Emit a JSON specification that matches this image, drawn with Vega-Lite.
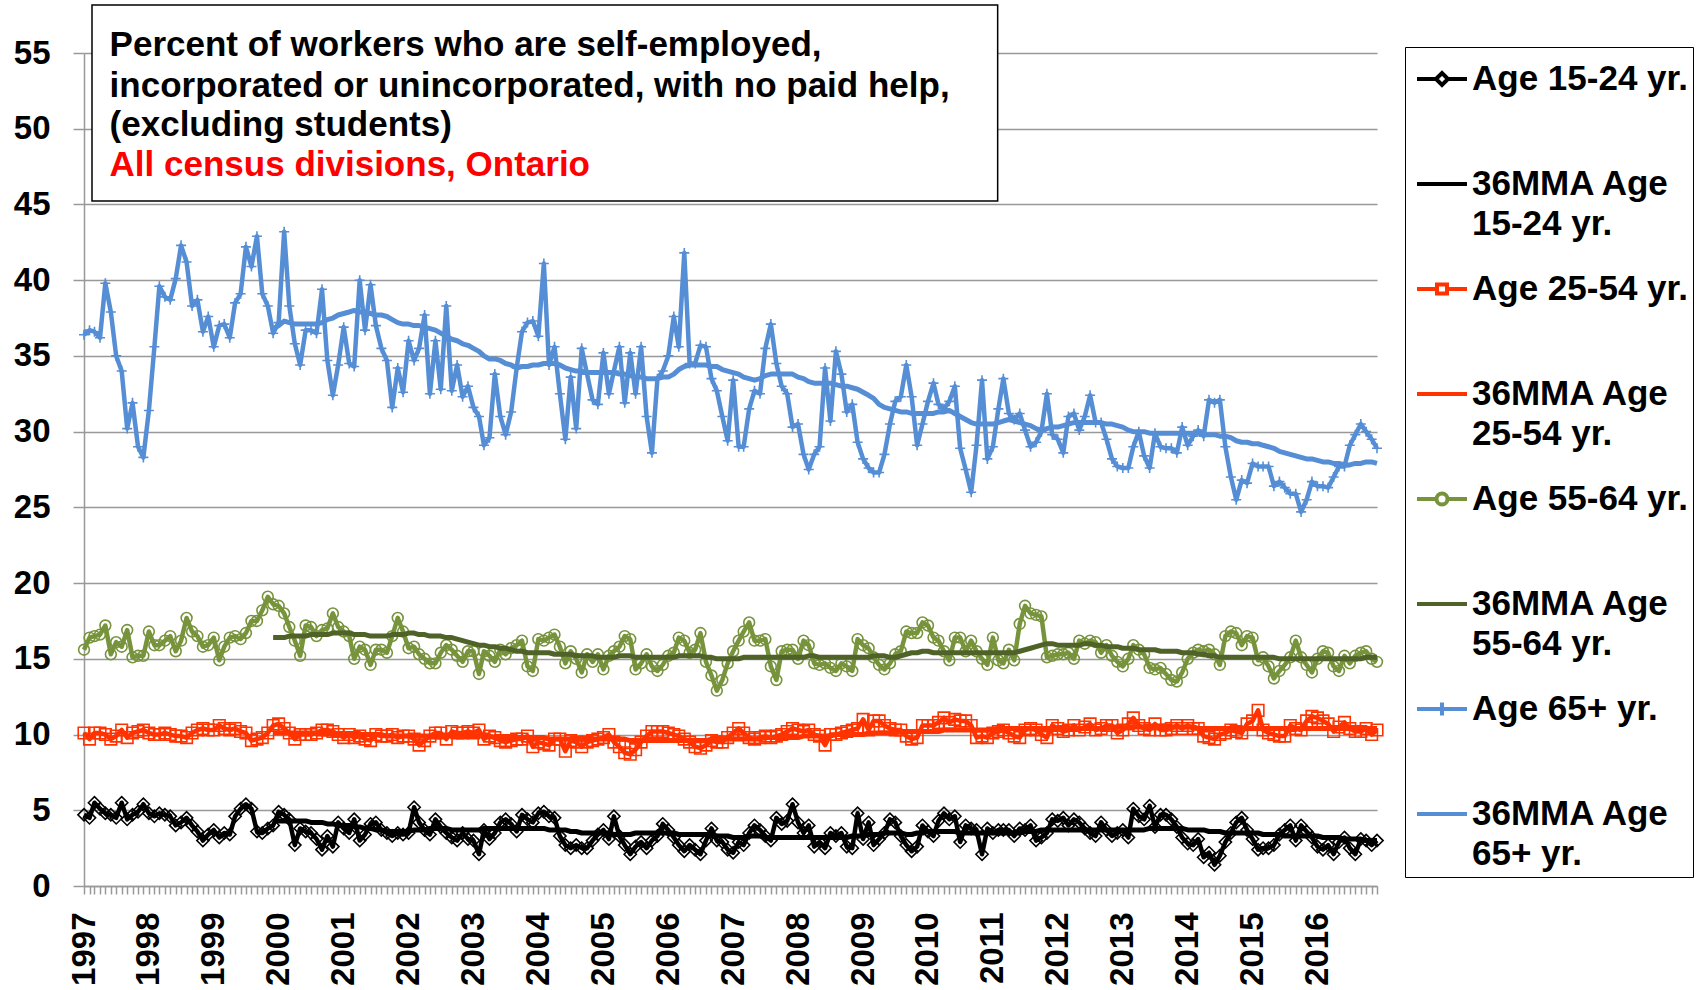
{
"$schema":"https://vega.github.io/schema/vega-lite/v6.json",
"width":1293,"height":833,
"autosize":{"type":"none"},
"padding":{"left":84,"top":53,"right":329,"bottom":104},
"background":"white",
"config":{"view":{"stroke":null},"font":"Liberation Sans"},
"datasets":{"m":[
{"d":"1997-01","a":4.7,"b":10.1,"c":15.6,"e":36.4},
{"d":"1997-02","a":4.5,"b":9.7,"c":16.4,"e":36.7},
{"d":"1997-03","a":5.5,"b":10.1,"c":16.5,"e":36.6},
{"d":"1997-04","a":5.1,"b":10.1,"c":16.6,"e":36.2},
{"d":"1997-05","a":4.8,"b":10.0,"c":17.2,"e":39.8},
{"d":"1997-06","a":4.7,"b":9.7,"c":15.3,"e":37.9},
{"d":"1997-07","a":4.5,"b":9.9,"c":16.1,"e":35.0},
{"d":"1997-08","a":5.5,"b":10.3,"c":15.8,"e":34.0},
{"d":"1997-09","a":4.4,"b":9.8,"c":16.9,"e":30.2},
{"d":"1997-10","a":4.7,"b":10.1,"c":15.1,"e":31.9},
{"d":"1997-11","a":4.9,"b":10.2,"c":15.2,"e":29.0},
{"d":"1997-12","a":5.4,"b":10.3,"c":15.2,"e":28.3},
{"d":"1998-01","a":4.8,"b":10.1,"c":16.8,"e":31.4},
{"d":"1998-02","a":4.6,"b":10.0,"c":15.9,"e":35.6},
{"d":"1998-03","a":4.8,"b":10.0,"c":15.9,"e":39.6},
{"d":"1998-04","a":4.7,"b":10.1,"c":16.2,"e":38.9},
{"d":"1998-05","a":4.6,"b":10.0,"c":16.5,"e":38.7},
{"d":"1998-06","a":4.0,"b":9.9,"c":15.5,"e":40.1},
{"d":"1998-07","a":4.2,"b":9.9,"c":16.2,"e":42.3},
{"d":"1998-08","a":4.5,"b":9.8,"c":17.7,"e":41.2},
{"d":"1998-09","a":4.0,"b":10.1,"c":16.8,"e":38.3},
{"d":"1998-10","a":3.6,"b":10.3,"c":16.5,"e":38.7},
{"d":"1998-11","a":3.0,"b":10.4,"c":15.8,"e":36.6},
{"d":"1998-12","a":3.4,"b":10.3,"c":15.9,"e":37.6},
{"d":"1999-01","a":3.7,"b":10.3,"c":16.4,"e":35.6},
{"d":"1999-02","a":3.2,"b":10.6,"c":14.9,"e":37.0},
{"d":"1999-03","a":3.5,"b":10.4,"c":15.8,"e":37.1},
{"d":"1999-04","a":3.4,"b":10.3,"c":16.4,"e":36.2},
{"d":"1999-05","a":4.6,"b":10.4,"c":16.5,"e":38.5},
{"d":"1999-06","a":5.1,"b":10.2,"c":16.3,"e":39.1},
{"d":"1999-07","a":5.4,"b":10.1,"c":16.7,"e":42.2},
{"d":"1999-08","a":5.1,"b":9.6,"c":17.5,"e":40.9},
{"d":"1999-09","a":3.6,"b":9.7,"c":17.5,"e":42.9},
{"d":"1999-10","a":3.5,"b":9.8,"c":18.2,"e":39.1},
{"d":"1999-11","a":3.8,"b":10.1,"c":19.1,"e":38.3},
{"d":"1999-12","a":4.0,"b":10.6,"c":18.6,"e":36.5,"ma":4.3,"mb":10.1,"mc":16.4,"me":36.8},
{"d":"2000-01","a":4.9,"b":10.7,"c":18.5,"e":37.2,"ma":4.3,"mb":10.1,"mc":16.4,"me":37.0},
{"d":"2000-02","a":4.7,"b":10.4,"c":18.0,"e":43.2,"ma":4.3,"mb":10.1,"mc":16.4,"me":37.3},
{"d":"2000-03","a":4.4,"b":10.1,"c":17.1,"e":38.3,"ma":4.3,"mb":10.1,"mc":16.5,"me":37.2},
{"d":"2000-04","a":2.7,"b":9.7,"c":16.2,"e":35.8,"ma":4.3,"mb":10.1,"mc":16.5,"me":37.1},
{"d":"2000-05","a":3.8,"b":10.0,"c":15.2,"e":34.4,"ma":4.3,"mb":10.1,"mc":16.5,"me":37.1},
{"d":"2000-06","a":3.6,"b":10.0,"c":17.2,"e":36.7,"ma":4.3,"mb":10.1,"mc":16.5,"me":37.1},
{"d":"2000-07","a":3.5,"b":10.0,"c":17.1,"e":36.7,"ma":4.2,"mb":10.1,"mc":16.6,"me":37.1},
{"d":"2000-08","a":3.1,"b":10.1,"c":16.5,"e":36.5,"ma":4.2,"mb":10.1,"mc":16.6,"me":37.1},
{"d":"2000-09","a":2.4,"b":10.3,"c":16.9,"e":39.4,"ma":4.2,"mb":10.1,"mc":16.6,"me":37.2},
{"d":"2000-10","a":3.3,"b":10.3,"c":17.0,"e":34.7,"ma":4.1,"mb":10.1,"mc":16.6,"me":37.4},
{"d":"2000-11","a":2.6,"b":10.2,"c":18.0,"e":32.4,"ma":4.1,"mb":10.0,"mc":16.7,"me":37.5},
{"d":"2000-12","a":4.2,"b":10.0,"c":17.1,"e":34.4,"ma":4.0,"mb":10.0,"mc":16.7,"me":37.7},
{"d":"2001-01","a":3.8,"b":9.8,"c":16.8,"e":36.9,"ma":4.0,"mb":10.0,"mc":16.7,"me":37.8},
{"d":"2001-02","a":3.5,"b":10.0,"c":16.5,"e":34.5,"ma":4.0,"mb":10.0,"mc":16.7,"me":37.9},
{"d":"2001-03","a":4.4,"b":9.8,"c":15.0,"e":34.3,"ma":3.9,"mb":10.0,"mc":16.6,"me":38.0},
{"d":"2001-04","a":3.0,"b":9.9,"c":15.8,"e":40.0,"ma":3.9,"mb":10.0,"mc":16.6,"me":37.9},
{"d":"2001-05","a":3.4,"b":9.7,"c":15.6,"e":36.7,"ma":3.8,"mb":10.0,"mc":16.6,"me":37.9},
{"d":"2001-06","a":4.1,"b":9.6,"c":14.6,"e":39.7,"ma":3.8,"mb":10.0,"mc":16.5,"me":37.8},
{"d":"2001-07","a":4.2,"b":10.0,"c":15.6,"e":37.0,"ma":3.7,"mb":10.0,"mc":16.5,"me":37.7},
{"d":"2001-08","a":3.7,"b":9.9,"c":15.6,"e":35.5,"ma":3.7,"mb":10.0,"mc":16.5,"me":37.7},
{"d":"2001-09","a":3.5,"b":9.9,"c":15.4,"e":34.7,"ma":3.6,"mb":9.9,"mc":16.5,"me":37.6},
{"d":"2001-10","a":3.3,"b":10.0,"c":16.5,"e":31.6,"ma":3.6,"mb":9.9,"mc":16.6,"me":37.4},
{"d":"2001-11","a":3.5,"b":9.8,"c":17.7,"e":34.2,"ma":3.6,"mb":9.9,"mc":16.6,"me":37.2},
{"d":"2001-12","a":3.4,"b":9.9,"c":16.8,"e":32.6,"ma":3.6,"mb":9.9,"mc":16.6,"me":37.1},
{"d":"2002-01","a":3.5,"b":9.9,"c":15.7,"e":36.0,"ma":3.6,"mb":9.9,"mc":16.7,"me":37.1},
{"d":"2002-02","a":5.2,"b":9.7,"c":15.8,"e":34.7,"ma":3.7,"mb":9.9,"mc":16.7,"me":37.0},
{"d":"2002-03","a":4.2,"b":9.3,"c":15.3,"e":35.5,"ma":3.7,"mb":9.9,"mc":16.6,"me":37.0},
{"d":"2002-04","a":3.7,"b":9.6,"c":15.0,"e":37.7,"ma":3.7,"mb":9.9,"mc":16.6,"me":36.9},
{"d":"2002-05","a":3.4,"b":9.9,"c":14.7,"e":32.5,"ma":3.8,"mb":9.9,"mc":16.5,"me":36.8},
{"d":"2002-06","a":4.4,"b":10.1,"c":14.7,"e":36.0,"ma":3.8,"mb":9.9,"mc":16.5,"me":36.7},
{"d":"2002-07","a":3.9,"b":10.1,"c":15.4,"e":32.8,"ma":3.8,"mb":9.9,"mc":16.5,"me":36.5},
{"d":"2002-08","a":3.5,"b":9.7,"c":15.9,"e":38.3,"ma":3.8,"mb":9.9,"mc":16.4,"me":36.3},
{"d":"2002-09","a":3.2,"b":10.2,"c":15.6,"e":32.7,"ma":3.7,"mb":9.9,"mc":16.4,"me":36.1},
{"d":"2002-10","a":3.0,"b":10.1,"c":15.2,"e":34.4,"ma":3.7,"mb":9.9,"mc":16.3,"me":36.0},
{"d":"2002-11","a":3.5,"b":10.1,"c":14.8,"e":32.3,"ma":3.7,"mb":9.9,"mc":16.2,"me":35.8},
{"d":"2002-12","a":3.1,"b":10.2,"c":15.5,"e":33.0,"ma":3.7,"mb":9.9,"mc":16.1,"me":35.7},
{"d":"2003-01","a":3.0,"b":10.1,"c":15.5,"e":31.6,"ma":3.7,"mb":9.9,"mc":16.0,"me":35.5},
{"d":"2003-02","a":2.1,"b":10.3,"c":14.0,"e":31.0,"ma":3.7,"mb":9.9,"mc":15.9,"me":35.3},
{"d":"2003-03","a":3.7,"b":9.7,"c":15.5,"e":29.1,"ma":3.8,"mb":9.9,"mc":15.9,"me":35.0},
{"d":"2003-04","a":3.1,"b":9.9,"c":15.2,"e":29.6,"ma":3.8,"mb":9.9,"mc":15.8,"me":34.8},
{"d":"2003-05","a":3.5,"b":9.8,"c":14.8,"e":33.8,"ma":3.8,"mb":9.8,"mc":15.8,"me":34.8},
{"d":"2003-06","a":4.2,"b":9.6,"c":15.6,"e":31.0,"ma":3.8,"mb":9.8,"mc":15.7,"me":34.7},
{"d":"2003-07","a":4.4,"b":9.5,"c":15.3,"e":29.8,"ma":3.8,"mb":9.8,"mc":15.7,"me":34.5},
{"d":"2003-08","a":4.1,"b":9.6,"c":15.7,"e":31.3,"ma":3.8,"mb":9.8,"mc":15.6,"me":34.4},
{"d":"2003-09","a":3.6,"b":9.7,"c":15.9,"e":34.2,"ma":3.8,"mb":9.8,"mc":15.5,"me":34.2},
{"d":"2003-10","a":4.7,"b":9.7,"c":16.2,"e":36.6,"ma":3.8,"mb":9.8,"mc":15.5,"me":34.3},
{"d":"2003-11","a":4.4,"b":9.9,"c":14.5,"e":37.2,"ma":3.8,"mb":9.8,"mc":15.4,"me":34.3},
{"d":"2003-12","a":4.2,"b":9.2,"c":14.2,"e":37.3,"ma":3.8,"mb":9.8,"mc":15.4,"me":34.4},
{"d":"2004-01","a":4.8,"b":9.5,"c":16.3,"e":36.3,"ma":3.8,"mb":9.8,"mc":15.4,"me":34.4},
{"d":"2004-02","a":4.9,"b":9.4,"c":16.2,"e":41.1,"ma":3.8,"mb":9.8,"mc":15.4,"me":34.5},
{"d":"2004-03","a":4.6,"b":9.3,"c":16.4,"e":34.4,"ma":3.7,"mb":9.7,"mc":15.4,"me":34.5},
{"d":"2004-04","a":4.5,"b":9.7,"c":16.6,"e":35.6,"ma":3.7,"mb":9.7,"mc":15.3,"me":34.5},
{"d":"2004-05","a":3.3,"b":9.7,"c":15.8,"e":32.5,"ma":3.7,"mb":9.7,"mc":15.3,"me":34.4},
{"d":"2004-06","a":2.7,"b":8.9,"c":14.7,"e":29.5,"ma":3.7,"mb":9.7,"mc":15.3,"me":34.2},
{"d":"2004-07","a":2.5,"b":9.6,"c":15.5,"e":33.6,"ma":3.6,"mb":9.7,"mc":15.3,"me":34.1},
{"d":"2004-08","a":2.7,"b":9.5,"c":15.0,"e":30.2,"ma":3.6,"mb":9.7,"mc":15.2,"me":34.0},
{"d":"2004-09","a":2.5,"b":9.2,"c":14.1,"e":35.5,"ma":3.5,"mb":9.7,"mc":15.2,"me":34.0},
{"d":"2004-10","a":2.5,"b":9.5,"c":15.3,"e":33.8,"ma":3.5,"mb":9.7,"mc":15.2,"me":33.9},
{"d":"2004-11","a":3.0,"b":9.6,"c":14.8,"e":32.1,"ma":3.5,"mb":9.7,"mc":15.2,"me":33.9},
{"d":"2004-12","a":3.4,"b":9.7,"c":15.3,"e":31.8,"ma":3.5,"mb":9.7,"mc":15.1,"me":33.9},
{"d":"2005-01","a":3.7,"b":9.8,"c":14.3,"e":35.2,"ma":3.5,"mb":9.7,"mc":15.1,"me":33.9},
{"d":"2005-02","a":3.1,"b":10.0,"c":15.2,"e":32.5,"ma":3.5,"mb":9.7,"mc":15.1,"me":33.9},
{"d":"2005-03","a":4.6,"b":9.5,"c":15.5,"e":34.0,"ma":3.4,"mb":9.7,"mc":15.1,"me":33.9},
{"d":"2005-04","a":3.3,"b":9.2,"c":15.8,"e":35.6,"ma":3.4,"mb":9.7,"mc":15.2,"me":33.8},
{"d":"2005-05","a":2.7,"b":8.8,"c":16.5,"e":31.9,"ma":3.4,"mb":9.7,"mc":15.2,"me":33.8},
{"d":"2005-06","a":2.1,"b":8.7,"c":16.3,"e":35.2,"ma":3.4,"mb":9.6,"mc":15.2,"me":33.7},
{"d":"2005-07","a":2.6,"b":9.0,"c":14.3,"e":32.5,"ma":3.5,"mb":9.6,"mc":15.1,"me":33.6},
{"d":"2005-08","a":2.9,"b":9.5,"c":14.7,"e":35.6,"ma":3.5,"mb":9.6,"mc":15.1,"me":33.6},
{"d":"2005-09","a":2.5,"b":9.9,"c":15.3,"e":31.0,"ma":3.5,"mb":9.6,"mc":15.1,"me":33.5},
{"d":"2005-10","a":3.0,"b":10.2,"c":14.5,"e":28.6,"ma":3.5,"mb":9.6,"mc":15.1,"me":33.5},
{"d":"2005-11","a":3.3,"b":10.2,"c":14.2,"e":33.5,"ma":3.5,"mb":9.6,"mc":15.1,"me":33.5},
{"d":"2005-12","a":4.1,"b":10.2,"c":14.6,"e":34.0,"ma":3.5,"mb":9.6,"mc":15.1,"me":33.6},
{"d":"2006-01","a":3.7,"b":10.1,"c":15.2,"e":35.0,"ma":3.5,"mb":9.6,"mc":15.1,"me":33.6},
{"d":"2006-02","a":3.2,"b":10.0,"c":15.4,"e":37.6,"ma":3.5,"mb":9.6,"mc":15.1,"me":33.8},
{"d":"2006-03","a":2.7,"b":9.9,"c":16.4,"e":35.6,"ma":3.4,"mb":9.6,"mc":15.2,"me":34.1},
{"d":"2006-04","a":2.3,"b":9.7,"c":16.2,"e":41.8,"ma":3.4,"mb":9.6,"mc":15.2,"me":34.3},
{"d":"2006-05","a":2.7,"b":9.5,"c":15.4,"e":34.5,"ma":3.4,"mb":9.6,"mc":15.2,"me":34.4},
{"d":"2006-06","a":2.4,"b":9.2,"c":15.6,"e":34.5,"ma":3.4,"mb":9.6,"mc":15.2,"me":34.4},
{"d":"2006-07","a":2.1,"b":9.1,"c":16.7,"e":35.7,"ma":3.4,"mb":9.6,"mc":15.2,"me":34.4},
{"d":"2006-08","a":3.0,"b":9.3,"c":14.8,"e":35.6,"ma":3.4,"mb":9.6,"mc":15.1,"me":34.4},
{"d":"2006-09","a":3.8,"b":9.6,"c":13.9,"e":33.5,"ma":3.3,"mb":9.7,"mc":15.1,"me":34.3},
{"d":"2006-10","a":3.0,"b":9.5,"c":12.9,"e":32.7,"ma":3.3,"mb":9.7,"mc":15.0,"me":34.3},
{"d":"2006-11","a":2.9,"b":9.5,"c":13.6,"e":31.0,"ma":3.3,"mb":9.7,"mc":15.0,"me":34.1},
{"d":"2006-12","a":2.4,"b":9.8,"c":14.7,"e":29.4,"ma":3.3,"mb":9.7,"mc":15.0,"me":34.0},
{"d":"2007-01","a":2.2,"b":10.1,"c":15.5,"e":33.4,"ma":3.2,"mb":9.7,"mc":15.0,"me":33.9},
{"d":"2007-02","a":2.9,"b":10.4,"c":16.2,"e":29.0,"ma":3.2,"mb":9.7,"mc":15.0,"me":33.8},
{"d":"2007-03","a":2.7,"b":10.1,"c":16.8,"e":29.0,"ma":3.2,"mb":9.7,"mc":15.1,"me":33.6},
{"d":"2007-04","a":3.5,"b":9.8,"c":17.4,"e":31.5,"ma":3.3,"mb":9.7,"mc":15.1,"me":33.5},
{"d":"2007-05","a":4.0,"b":9.7,"c":16.2,"e":32.7,"ma":3.3,"mb":9.7,"mc":15.1,"me":33.4},
{"d":"2007-06","a":3.7,"b":9.8,"c":16.2,"e":32.5,"ma":3.3,"mb":9.7,"mc":15.1,"me":33.5},
{"d":"2007-07","a":3.3,"b":9.9,"c":16.3,"e":35.5,"ma":3.2,"mb":9.8,"mc":15.1,"me":33.7},
{"d":"2007-08","a":3.0,"b":9.8,"c":14.5,"e":37.1,"ma":3.2,"mb":9.8,"mc":15.1,"me":33.8},
{"d":"2007-09","a":4.5,"b":9.9,"c":13.6,"e":34.5,"ma":3.2,"mb":9.8,"mc":15.1,"me":33.8},
{"d":"2007-10","a":4.1,"b":10.0,"c":15.5,"e":33.0,"ma":3.2,"mb":9.8,"mc":15.1,"me":33.8},
{"d":"2007-11","a":4.3,"b":10.2,"c":15.6,"e":32.5,"ma":3.2,"mb":9.8,"mc":15.1,"me":33.8},
{"d":"2007-12","a":5.4,"b":10.4,"c":15.6,"e":30.3,"ma":3.2,"mb":9.8,"mc":15.1,"me":33.8},
{"d":"2008-01","a":4.2,"b":10.3,"c":15.0,"e":30.5,"ma":3.2,"mb":9.8,"mc":15.1,"me":33.6},
{"d":"2008-02","a":3.5,"b":10.2,"c":16.2,"e":28.5,"ma":3.2,"mb":9.9,"mc":15.1,"me":33.5},
{"d":"2008-03","a":4.0,"b":10.3,"c":15.9,"e":27.5,"ma":3.2,"mb":9.9,"mc":15.2,"me":33.3},
{"d":"2008-04","a":2.6,"b":10.0,"c":14.7,"e":28.5,"ma":3.2,"mb":9.9,"mc":15.2,"me":33.2},
{"d":"2008-05","a":2.9,"b":9.9,"c":14.6,"e":29.0,"ma":3.2,"mb":9.9,"mc":15.1,"me":33.2},
{"d":"2008-06","a":2.5,"b":9.3,"c":14.7,"e":34.2,"ma":3.2,"mb":9.9,"mc":15.1,"me":33.2},
{"d":"2008-07","a":3.5,"b":10.0,"c":14.4,"e":30.7,"ma":3.2,"mb":9.9,"mc":15.1,"me":33.2},
{"d":"2008-08","a":3.3,"b":10.0,"c":14.2,"e":35.3,"ma":3.2,"mb":10.0,"mc":15.1,"me":33.1},
{"d":"2008-09","a":3.5,"b":10.1,"c":14.7,"e":33.8,"ma":3.2,"mb":10.0,"mc":15.1,"me":33.0},
{"d":"2008-10","a":2.6,"b":10.2,"c":14.5,"e":31.3,"ma":3.2,"mb":10.0,"mc":15.1,"me":33.0},
{"d":"2008-11","a":2.5,"b":10.3,"c":14.2,"e":31.8,"ma":3.3,"mb":10.0,"mc":15.1,"me":32.9},
{"d":"2008-12","a":4.8,"b":10.4,"c":16.3,"e":29.3,"ma":3.3,"mb":10.0,"mc":15.1,"me":32.8},
{"d":"2009-01","a":3.1,"b":11.0,"c":15.9,"e":28.2,"ma":3.3,"mb":10.0,"mc":15.1,"me":32.6},
{"d":"2009-02","a":4.2,"b":10.3,"c":15.7,"e":27.6,"ma":3.4,"mb":10.1,"mc":15.1,"me":32.4},
{"d":"2009-03","a":2.7,"b":10.9,"c":15.1,"e":27.3,"ma":3.4,"mb":10.1,"mc":15.2,"me":32.2},
{"d":"2009-04","a":3.1,"b":10.9,"c":14.6,"e":27.3,"ma":3.4,"mb":10.1,"mc":15.2,"me":31.8},
{"d":"2009-05","a":3.5,"b":10.6,"c":14.3,"e":28.5,"ma":3.5,"mb":10.1,"mc":15.2,"me":31.6},
{"d":"2009-06","a":4.4,"b":10.4,"c":14.7,"e":30.5,"ma":3.5,"mb":10.1,"mc":15.1,"me":31.5},
{"d":"2009-07","a":4.2,"b":10.3,"c":15.3,"e":32.0,"ma":3.5,"mb":10.1,"mc":15.1,"me":31.4},
{"d":"2009-08","a":3.3,"b":10.3,"c":15.5,"e":32.3,"ma":3.5,"mb":10.2,"mc":15.2,"me":31.3},
{"d":"2009-09","a":2.7,"b":9.9,"c":16.8,"e":34.4,"ma":3.4,"mb":10.2,"mc":15.3,"me":31.3},
{"d":"2009-10","a":2.3,"b":9.7,"c":16.7,"e":32.3,"ma":3.4,"mb":10.2,"mc":15.4,"me":31.2},
{"d":"2009-11","a":2.6,"b":9.8,"c":16.7,"e":29.1,"ma":3.5,"mb":10.2,"mc":15.4,"me":31.2},
{"d":"2009-12","a":4.0,"b":10.6,"c":17.4,"e":30.5,"ma":3.5,"mb":10.2,"mc":15.5,"me":31.2},
{"d":"2010-01","a":3.6,"b":10.6,"c":17.2,"e":32.0,"ma":3.6,"mb":10.2,"mc":15.5,"me":31.2},
{"d":"2010-02","a":3.3,"b":10.6,"c":16.4,"e":33.2,"ma":3.6,"mb":10.2,"mc":15.4,"me":31.2},
{"d":"2010-03","a":4.3,"b":10.8,"c":16.2,"e":31.8,"ma":3.6,"mb":10.2,"mc":15.4,"me":31.3},
{"d":"2010-04","a":4.8,"b":11.1,"c":15.5,"e":31.5,"ma":3.6,"mb":10.3,"mc":15.4,"me":31.3},
{"d":"2010-05","a":4.4,"b":10.8,"c":14.9,"e":32.0,"ma":3.6,"mb":10.3,"mc":15.4,"me":31.4},
{"d":"2010-06","a":4.6,"b":11.0,"c":16.4,"e":33.0,"ma":3.6,"mb":10.3,"mc":15.4,"me":31.2},
{"d":"2010-07","a":2.9,"b":10.9,"c":16.4,"e":28.9,"ma":3.5,"mb":10.3,"mc":15.4,"me":31.0},
{"d":"2010-08","a":4.0,"b":10.9,"c":15.5,"e":27.5,"ma":3.5,"mb":10.3,"mc":15.4,"me":30.8},
{"d":"2010-09","a":3.8,"b":10.6,"c":16.2,"e":26.0,"ma":3.5,"mb":10.3,"mc":15.4,"me":30.6},
{"d":"2010-10","a":3.7,"b":9.8,"c":15.5,"e":29.1,"ma":3.5,"mb":10.3,"mc":15.4,"me":30.5},
{"d":"2010-11","a":2.1,"b":9.9,"c":15.0,"e":33.4,"ma":3.5,"mb":10.3,"mc":15.4,"me":30.5},
{"d":"2010-12","a":3.8,"b":9.8,"c":14.6,"e":28.2,"ma":3.5,"mb":10.3,"mc":15.4,"me":30.5},
{"d":"2011-01","a":3.5,"b":10.1,"c":16.4,"e":29.0,"ma":3.5,"mb":10.3,"mc":15.4,"me":30.5},
{"d":"2011-02","a":3.7,"b":10.2,"c":14.9,"e":31.5,"ma":3.5,"mb":10.4,"mc":15.4,"me":30.6},
{"d":"2011-03","a":3.7,"b":10.3,"c":14.7,"e":33.5,"ma":3.5,"mb":10.4,"mc":15.4,"me":30.7},
{"d":"2011-04","a":3.7,"b":10.1,"c":15.6,"e":31.2,"ma":3.5,"mb":10.4,"mc":15.4,"me":30.8},
{"d":"2011-05","a":3.3,"b":9.9,"c":14.9,"e":30.8,"ma":3.5,"mb":10.4,"mc":15.4,"me":30.7},
{"d":"2011-06","a":3.8,"b":9.8,"c":17.3,"e":31.2,"ma":3.5,"mb":10.4,"mc":15.5,"me":30.6},
{"d":"2011-07","a":3.7,"b":10.3,"c":18.5,"e":30.1,"ma":3.6,"mb":10.4,"mc":15.6,"me":30.5},
{"d":"2011-08","a":4.0,"b":10.4,"c":18.0,"e":29.0,"ma":3.6,"mb":10.4,"mc":15.7,"me":30.4},
{"d":"2011-09","a":3.0,"b":10.3,"c":17.9,"e":29.3,"ma":3.6,"mb":10.4,"mc":15.8,"me":30.2},
{"d":"2011-10","a":3.2,"b":10.0,"c":17.8,"e":30.0,"ma":3.7,"mb":10.4,"mc":15.9,"me":30.1},
{"d":"2011-11","a":3.5,"b":9.8,"c":15.1,"e":32.5,"ma":3.7,"mb":10.4,"mc":16.0,"me":30.2},
{"d":"2011-12","a":4.4,"b":10.6,"c":15.2,"e":29.8,"ma":3.7,"mb":10.4,"mc":16.0,"me":30.3},
{"d":"2012-01","a":4.3,"b":10.4,"c":15.3,"e":29.5,"ma":3.7,"mb":10.4,"mc":15.9,"me":30.3},
{"d":"2012-02","a":4.5,"b":10.2,"c":15.3,"e":28.6,"ma":3.7,"mb":10.4,"mc":15.9,"me":30.4},
{"d":"2012-03","a":4.0,"b":10.3,"c":15.4,"e":31.0,"ma":3.7,"mb":10.4,"mc":15.9,"me":30.5},
{"d":"2012-04","a":4.4,"b":10.6,"c":15.0,"e":31.2,"ma":3.7,"mb":10.4,"mc":15.9,"me":30.6},
{"d":"2012-05","a":4.2,"b":10.3,"c":16.2,"e":30.1,"ma":3.7,"mb":10.4,"mc":15.9,"me":30.6},
{"d":"2012-06","a":3.8,"b":10.5,"c":16.0,"e":31.0,"ma":3.7,"mb":10.4,"mc":16.0,"me":30.6},
{"d":"2012-07","a":3.5,"b":10.7,"c":16.2,"e":32.4,"ma":3.7,"mb":10.4,"mc":16.0,"me":30.6},
{"d":"2012-08","a":3.3,"b":10.3,"c":16.1,"e":30.6,"ma":3.7,"mb":10.4,"mc":15.9,"me":30.6},
{"d":"2012-09","a":4.2,"b":10.4,"c":15.4,"e":30.6,"ma":3.7,"mb":10.4,"mc":15.9,"me":30.6},
{"d":"2012-10","a":3.7,"b":10.6,"c":15.9,"e":29.5,"ma":3.7,"mb":10.4,"mc":15.8,"me":30.5},
{"d":"2012-11","a":3.3,"b":10.6,"c":15.2,"e":28.2,"ma":3.7,"mb":10.5,"mc":15.8,"me":30.5},
{"d":"2012-12","a":3.5,"b":10.1,"c":14.8,"e":27.7,"ma":3.7,"mb":10.5,"mc":15.8,"me":30.4},
{"d":"2013-01","a":3.7,"b":10.3,"c":14.5,"e":27.6,"ma":3.7,"mb":10.5,"mc":15.7,"me":30.3},
{"d":"2013-02","a":3.2,"b":10.7,"c":15.0,"e":27.6,"ma":3.7,"mb":10.5,"mc":15.7,"me":30.1},
{"d":"2013-03","a":5.1,"b":11.1,"c":15.9,"e":29.0,"ma":3.7,"mb":10.5,"mc":15.7,"me":30.0},
{"d":"2013-04","a":4.6,"b":10.6,"c":15.6,"e":30.0,"ma":3.7,"mb":10.5,"mc":15.6,"me":30.0},
{"d":"2013-05","a":4.4,"b":10.4,"c":15.3,"e":28.4,"ma":3.7,"mb":10.5,"mc":15.6,"me":30.0},
{"d":"2013-06","a":5.3,"b":10.3,"c":14.4,"e":27.6,"ma":3.8,"mb":10.5,"mc":15.6,"me":29.9},
{"d":"2013-07","a":3.9,"b":10.7,"c":14.3,"e":29.9,"ma":3.8,"mb":10.5,"mc":15.6,"me":29.9},
{"d":"2013-08","a":4.7,"b":10.3,"c":14.4,"e":29.0,"ma":3.8,"mb":10.5,"mc":15.5,"me":29.9},
{"d":"2013-09","a":4.7,"b":10.3,"c":14.0,"e":28.9,"ma":3.8,"mb":10.5,"mc":15.5,"me":29.9},
{"d":"2013-10","a":4.4,"b":10.4,"c":13.6,"e":28.9,"ma":3.8,"mb":10.5,"mc":15.5,"me":29.9},
{"d":"2013-11","a":3.9,"b":10.6,"c":13.5,"e":28.6,"ma":3.8,"mb":10.5,"mc":15.5,"me":29.9},
{"d":"2013-12","a":3.2,"b":10.4,"c":14.1,"e":30.3,"ma":3.8,"mb":10.5,"mc":15.4,"me":29.9},
{"d":"2014-01","a":2.8,"b":10.6,"c":15.0,"e":29.1,"ma":3.7,"mb":10.5,"mc":15.4,"me":29.9},
{"d":"2014-02","a":2.7,"b":10.4,"c":15.4,"e":29.7,"ma":3.7,"mb":10.5,"mc":15.4,"me":29.9},
{"d":"2014-03","a":3.1,"b":10.4,"c":15.6,"e":30.1,"ma":3.7,"mb":10.4,"mc":15.3,"me":29.9},
{"d":"2014-04","a":1.9,"b":9.9,"c":15.5,"e":29.7,"ma":3.7,"mb":10.4,"mc":15.3,"me":29.8},
{"d":"2014-05","a":2.2,"b":9.8,"c":15.6,"e":32.1,"ma":3.6,"mb":10.4,"mc":15.2,"me":29.8},
{"d":"2014-06","a":1.4,"b":9.7,"c":15.3,"e":31.9,"ma":3.6,"mb":10.4,"mc":15.2,"me":29.8},
{"d":"2014-07","a":2.0,"b":10.0,"c":14.6,"e":32.1,"ma":3.6,"mb":10.4,"mc":15.1,"me":29.7},
{"d":"2014-08","a":2.9,"b":10.1,"c":16.5,"e":29.0,"ma":3.5,"mb":10.4,"mc":15.1,"me":29.7},
{"d":"2014-09","a":3.5,"b":10.3,"c":16.8,"e":27.0,"ma":3.5,"mb":10.4,"mc":15.1,"me":29.6},
{"d":"2014-10","a":4.2,"b":10.2,"c":16.7,"e":25.5,"ma":3.5,"mb":10.4,"mc":15.1,"me":29.4},
{"d":"2014-11","a":4.5,"b":10.1,"c":15.9,"e":26.8,"ma":3.5,"mb":10.4,"mc":15.1,"me":29.3},
{"d":"2014-12","a":3.7,"b":10.7,"c":16.5,"e":26.6,"ma":3.5,"mb":10.4,"mc":15.1,"me":29.3},
{"d":"2015-01","a":3.1,"b":10.9,"c":16.4,"e":27.9,"ma":3.5,"mb":10.4,"mc":15.1,"me":29.2},
{"d":"2015-02","a":2.4,"b":11.6,"c":14.9,"e":27.7,"ma":3.5,"mb":10.4,"mc":15.1,"me":29.2},
{"d":"2015-03","a":2.5,"b":10.3,"c":15.1,"e":27.7,"ma":3.4,"mb":10.4,"mc":15.1,"me":29.1},
{"d":"2015-04","a":2.5,"b":10.1,"c":14.5,"e":27.7,"ma":3.4,"mb":10.4,"mc":15.1,"me":29.0},
{"d":"2015-05","a":2.7,"b":10.0,"c":13.7,"e":26.4,"ma":3.4,"mb":10.4,"mc":15.1,"me":28.9},
{"d":"2015-06","a":3.4,"b":9.9,"c":14.2,"e":26.7,"ma":3.4,"mb":10.4,"mc":15.0,"me":28.7},
{"d":"2015-07","a":3.7,"b":9.9,"c":14.6,"e":26.3,"ma":3.3,"mb":10.4,"mc":15.0,"me":28.6},
{"d":"2015-08","a":4.0,"b":10.6,"c":15.1,"e":25.9,"ma":3.3,"mb":10.4,"mc":15.0,"me":28.5},
{"d":"2015-09","a":3.0,"b":10.4,"c":16.2,"e":25.9,"ma":3.3,"mb":10.4,"mc":15.0,"me":28.4},
{"d":"2015-10","a":4.0,"b":10.3,"c":15.1,"e":24.7,"ma":3.3,"mb":10.4,"mc":15.0,"me":28.3},
{"d":"2015-11","a":3.6,"b":10.9,"c":14.6,"e":25.5,"ma":3.3,"mb":10.4,"mc":15.0,"me":28.2},
{"d":"2015-12","a":3.2,"b":11.2,"c":14.1,"e":26.7,"ma":3.3,"mb":10.4,"mc":15.0,"me":28.2},
{"d":"2016-01","a":2.6,"b":11.1,"c":15.0,"e":26.4,"ma":3.3,"mb":10.4,"mc":15.0,"me":28.1},
{"d":"2016-02","a":2.4,"b":10.9,"c":15.5,"e":26.4,"ma":3.2,"mb":10.4,"mc":15.0,"me":28.0},
{"d":"2016-03","a":2.7,"b":10.7,"c":15.4,"e":26.3,"ma":3.2,"mb":10.4,"mc":15.0,"me":28.0},
{"d":"2016-04","a":2.1,"b":10.2,"c":14.5,"e":27.0,"ma":3.2,"mb":10.4,"mc":15.0,"me":27.9},
{"d":"2016-05","a":2.9,"b":10.5,"c":14.2,"e":27.7,"ma":3.2,"mb":10.4,"mc":15.0,"me":27.9},
{"d":"2016-06","a":3.2,"b":10.8,"c":15.2,"e":27.7,"ma":3.1,"mb":10.4,"mc":15.0,"me":27.8},
{"d":"2016-07","a":2.5,"b":10.4,"c":14.7,"e":29.1,"ma":3.1,"mb":10.4,"mc":15.0,"me":27.8},
{"d":"2016-08","a":2.1,"b":10.2,"c":15.2,"e":29.8,"ma":3.1,"mb":10.4,"mc":15.0,"me":27.9},
{"d":"2016-09","a":3.1,"b":10.2,"c":15.4,"e":30.5,"ma":3.1,"mb":10.4,"mc":15.0,"me":27.9},
{"d":"2016-10","a":3.0,"b":10.4,"c":15.5,"e":30.0,"ma":3.0,"mb":10.4,"mc":15.1,"me":28.0},
{"d":"2016-11","a":2.7,"b":10.0,"c":15.0,"e":29.5,"ma":3.0,"mb":10.4,"mc":15.1,"me":28.0},
{"d":"2016-12","a":3.0,"b":10.3,"c":14.8,"e":28.9,"ma":3.0,"mb":10.4,"mc":15.1,"me":27.9}
]},
"layer":[
{
"data":{"name":"m"},
"transform":[{"fold":["a","ma","b","mb","c","mc","e","me"],"as":["k","v"]},{"filter":"isValid(datum.v)"}],
"encoding":{
"x":{"field":"d","type":"temporal","scale":{"type":"utc","domain":[{"year":1997,"month":1,"date":1,"utc":true},{"year":2016,"month":12,"date":1,"utc":true}]},
"axis":{"title":null,"grid":false,"tickCount":{"interval":"month","step":1},"labelExpr":"utcmonth(datum.value)===0 ? utcFormat(datum.value,'%Y') : ''","labelAngle":270,"labelAlign":"right","labelBaseline":"middle","labelFont":"Liberation Sans","labelFontSize":33,"labelFontWeight":"bold","labelColor":"#000000","labelPadding":18,"labelOverlap":false,"labelFlush":false,"labelBound":false,"tickSize":8,"tickColor":"#999999","tickWidth":1.5,"domainColor":"#999999","domainWidth":1.5}},
"y":{"field":"v","type":"quantitative","scale":{"domain":[0,55],"nice":false,"zero":false},
"axis":{"title":null,"values":[0,5,10,15,20,25,30,35,40,45,50,55],"grid":true,"gridColor":"#999999","gridWidth":1.5,"domainColor":"#999999","domainWidth":1.5,"tickColor":"#999999","tickWidth":1.5,"tickSize":11,"labelPadding":23,"labelFont":"Liberation Sans","labelFontSize":33,"labelFontWeight":"bold","labelColor":"#000000"}},
"color":{"field":"k","type":"nominal","scale":{"domain":["a","ma","b","mb","c","mc","e","me"],"range":["#000000","#000000","#FF3300","#FF3300","#77933C","#4F6228","#558ED5","#558ED5"]},
"legend":{"title":null,"orient":"none","legendX":1321,"legendY":-6,"padding":5,"strokeColor":"#000000","fillColor":"#ffffff","labelFont":"Liberation Sans","labelFontSize":35,"labelFontWeight":"bold","labelColor":"#000000","labelLimit":400,"labelOffset":3,"symbolOffset":5,"symbolSize":2500,"symbolStrokeWidth":4,"rowPadding":20,"labelBaseline":"middle",
"labelExpr":"datum.value=='a' ? ['Age 15-24 yr.',''] : datum.value=='ma' ? ['36MMA Age','15-24 yr.'] : datum.value=='b' ? ['Age 25-54 yr.',''] : datum.value=='mb' ? ['36MMA Age','25-54 yr.'] : datum.value=='c' ? ['Age 55-64 yr.',''] : datum.value=='mc' ? ['36MMA Age','55-64 yr.'] : datum.value=='e' ? ['Age 65+ yr.',''] : ['36MMA Age','65+ yr.']",
"encode":{"symbols":{"update":{"shape":{"signal":"datum.value=='a' ? 'M-1,0H-0.24M0.24,0H1M-0.24,0L0,-0.24L0.24,0L0,0.24Z' : datum.value=='b' ? 'M-1,0H-0.2M0.2,0H1M-0.2,-0.18H0.2V0.18H-0.2Z' : datum.value=='c' ? 'M-1,0H-0.22M0.22,0H1M-0.22,0A0.22,0.22,0,1,1,0.22,0A0.22,0.22,0,1,1,-0.22,0Z' : datum.value=='e' ? 'M-1,0H1M0,-0.26V0.26' : 'M-1,0H1'"},"fill":{"value":"#ffffff"},"strokeWidth":{"value":4},"size":{"value":2500},"opacity":{"value":1}}},"labels":{"update":{"lineHeight":{"value":40}}}}}}
},
"layer":[
{"transform":[{"filter":"indexof(['a','b','c','e'], datum.k) >= 0"}],"mark":{"type":"line","strokeWidth":4.5,"strokeJoin":"round"}},
{"transform":[{"filter":"indexof(['a','b','c','e'], datum.k) >= 0"}],"mark":{"type":"point","filled":false,"strokeWidth":1.6,"opacity":1},
"encoding":{"shape":{"field":"k","type":"nominal","scale":{"domain":["a","b","c","e"],"range":["diamond","square","circle","M-1,0H1M0,-1V1"]},"legend":null},
"size":{"field":"k","type":"ordinal","scale":{"domain":["a","b","c","e"],"range":[150,100,90,130]},"legend":null}}},
{"transform":[{"filter":"indexof(['ma','mb','mc','me'], datum.k) >= 0"}],"mark":{"type":"line","strokeWidth":5,"strokeJoin":"round"}}
]
},
{"data":{"values":[{}]},"mark":{"type":"rect","fill":"#ffffff","stroke":"#000000","strokeWidth":1.5},
"encoding":{"x":{"datum":{"year":1997,"month":2,"date":15,"utc":true},"type":"temporal"},"x2":{"datum":{"year":2011,"month":1,"date":28,"utc":true}},"y":{"datum":58.17,"type":"quantitative"},"y2":{"datum":45.23}}},
{"data":{"values":[{}]},"mark":{"type":"text","text":"Percent of workers who are self-employed,","align":"left","baseline":"middle","font":"Liberation Sans","fontSize":35,"fontWeight":"bold","color":"#000000"},
"encoding":{"x":{"datum":{"year":1997,"month":5,"date":25,"utc":true},"type":"temporal"},"y":{"datum":55.51,"type":"quantitative"}}},
{"data":{"values":[{}]},"mark":{"type":"text","text":"incorporated or unincorporated, with no paid help,","align":"left","baseline":"middle","font":"Liberation Sans","fontSize":35,"fontWeight":"bold","color":"#000000"},
"encoding":{"x":{"datum":{"year":1997,"month":5,"date":25,"utc":true},"type":"temporal"},"y":{"datum":52.85,"type":"quantitative"}}},
{"data":{"values":[{}]},"mark":{"type":"text","text":"(excluding students)","align":"left","baseline":"middle","font":"Liberation Sans","fontSize":35,"fontWeight":"bold","color":"#000000"},
"encoding":{"x":{"datum":{"year":1997,"month":5,"date":25,"utc":true},"type":"temporal"},"y":{"datum":50.26,"type":"quantitative"}}},
{"data":{"values":[{}]},"mark":{"type":"text","text":"All census divisions, Ontario","align":"left","baseline":"middle","font":"Liberation Sans","fontSize":35,"fontWeight":"bold","color":"#FF0000"},
"encoding":{"x":{"datum":{"year":1997,"month":5,"date":25,"utc":true},"type":"temporal"},"y":{"datum":47.62,"type":"quantitative"}}}
]
}
